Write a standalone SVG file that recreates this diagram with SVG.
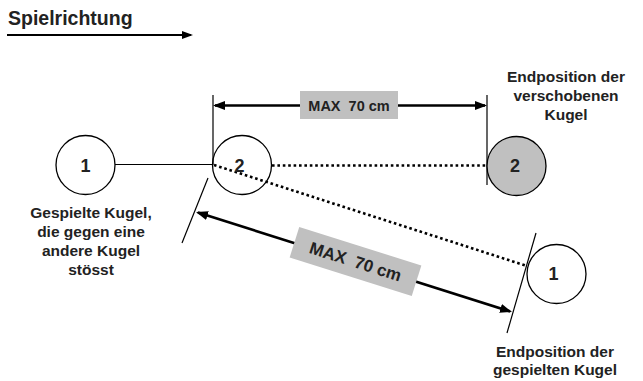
<svg xmlns="http://www.w3.org/2000/svg" width="643" height="381" viewBox="0 0 643 381">
<style>
.lbl{font-family:"Liberation Sans",Arial,sans-serif;font-weight:bold;font-size:15.5px;fill:#222;text-anchor:middle}
.num{font-family:"Liberation Sans",Arial,sans-serif;font-weight:bold;font-size:18px;fill:#222;text-anchor:middle}
.ball{stroke:#000;stroke-width:1.3;fill:#fff}
.thin{stroke:#000;stroke-width:1.2;fill:none}
.dot{stroke:#000;stroke-width:2.6;stroke-dasharray:2.6 2.8;fill:none}
.dim{stroke:#000;stroke-width:2.6;fill:none}
.box{fill:#c0c0c0}
</style>
<defs>
<marker id="ah" markerUnits="userSpaceOnUse" markerWidth="12" markerHeight="10" refX="10" refY="4.5" orient="auto-start-reverse" viewBox="0 0 12 9">
<path d="M0,0 L12,4.5 L0,9 z" fill="#000"/>
</marker>
<marker id="ahs" markerUnits="userSpaceOnUse" markerWidth="11" markerHeight="9" refX="9" refY="4" orient="auto" viewBox="0 0 11 8">
<path d="M0,0 L11,4 L0,8 z" fill="#000"/>
</marker>
</defs>
<g id="direction">
<text class="lbl" x="8" y="25" style="text-anchor:start;font-size:19.5px">Spielrichtung</text>
<line x1="7" y1="35" x2="191" y2="35" stroke="#000" stroke-width="2" marker-end="url(#ahs)"/>
</g>
<g id="connectors">
<line class="thin" x1="115" y1="164.5" x2="213" y2="164.5"/>
<line class="thin" x1="213" y1="95" x2="213" y2="165"/>
<line class="thin" x1="487" y1="95" x2="487" y2="185"/>
<line class="thin" x1="208" y1="178" x2="182" y2="243"/>
<line class="thin" x1="536" y1="233" x2="507" y2="333"/>
<line class="dot" x1="272" y1="165.5" x2="487" y2="165.5"/>
<line class="dot" x1="214" y1="165" x2="527" y2="266"/>
<line class="dim" x1="215" y1="105.5" x2="485" y2="105.5" marker-start="url(#ah)" marker-end="url(#ah)"/>
<line class="dim" x1="197.9" y1="212.6" x2="510.1" y2="311.4" marker-start="url(#ah)" marker-end="url(#ah)"/>
</g>
<g id="dim-top">
<rect class="box" x="300" y="91" width="98" height="28"/>
<text class="lbl" x="349" y="111" style="font-size:14.5px">MAX&#160; 70 cm</text>
</g>
<g id="dim-bottom" transform="translate(355.5,261.5) rotate(17.5)">
<rect class="box" x="-64" y="-16" width="128" height="32"/>
<text class="lbl" x="0" y="6" style="font-size:17px">MAX&#160; 70 cm</text>
</g>
<g id="ball1-start">
<circle class="ball" cx="85.5" cy="165" r="29.5"/>
<text class="num" x="85.5" y="171.5">1</text>
</g>
<g id="ball2-start">
<circle class="ball" cx="242" cy="165" r="29.5" style="fill:none"/>
<text class="num" x="239.5" y="171.5">2</text>
</g>
<g id="ball2-end">
<circle class="ball" cx="516.5" cy="166" r="29.5" style="fill:#c0c0c0"/>
<text class="num" x="515" y="171.5">2</text>
</g>
<g id="ball1-end">
<circle class="ball" cx="556.5" cy="274" r="29.5"/>
<text class="num" x="553.5" y="279.5">1</text>
</g>
<g id="label-start">
<text class="lbl" x="91" y="218">Gespielte Kugel,</text>
<text class="lbl" x="91" y="237">die gegen eine</text>
<text class="lbl" x="91" y="256">andere Kugel</text>
<text class="lbl" x="91" y="275">stösst</text>
</g>
<g id="label-end2">
<text class="lbl" x="566" y="82">Endposition der</text>
<text class="lbl" x="566" y="101">verschobenen</text>
<text class="lbl" x="566" y="120">Kugel</text>
</g>
<g id="label-end1">
<text class="lbl" x="555" y="357">Endposition der</text>
<text class="lbl" x="555" y="375">gespielten Kugel</text>
</g>
</svg>
